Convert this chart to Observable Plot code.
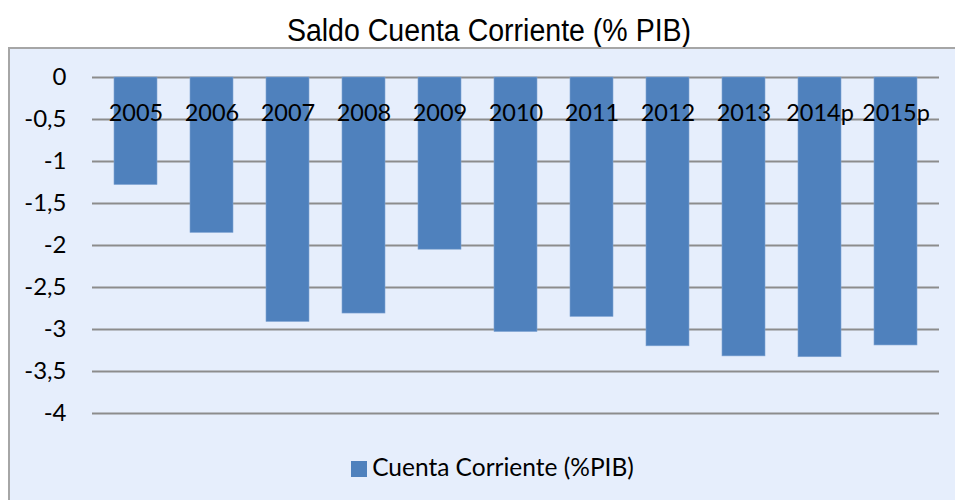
<!DOCTYPE html>
<html>
<head>
<meta charset="utf-8">
<script src="https://cdn.jsdelivr.net/npm/d3@7"></script>
<script src="https://cdn.jsdelivr.net/npm/@observablehq/plot@0.6"></script>
<style>
  html, body { margin: 0; padding: 0; background: #ffffff; overflow: hidden; }
  #title {
    position: absolute; left: 189px; top: 11px; width: 600px; height: 40px;
    text-align: center; line-height: 40px; white-space: nowrap;
    font-family: "Liberation Sans", Arial, sans-serif;
    font-size: 31px; color: #000;
    transform: scaleX(0.92); transform-origin: center;
  }
  #panel {
    position: absolute; left: 8px; top: 47px; width: 960px; height: 470px;
    background: #E6EEFC; border-left: 2px solid #a6a6a6; border-top: 2px solid #a6a6a6;
  }
  #legend {
    width: 925px; padding-left: 20px; margin-top: 24px; text-align: center;
    font-family: Lato, "Open Sans", sans-serif; font-size: 24.5px; line-height: 28px; color: #000;
  }
  #legend .sw { display: inline-block; width: 16px; height: 16px; background: #4F81BD; vertical-align: -1px; margin-right: 5px; }
</style>
</head>
<body>
<div id="title">Saldo Cuenta Corriente (% PIB)</div>
<div id="panel">
  <div id="chart"></div>
  <div id="legend"><span class="sw"></span>Cuenta Corriente (%PIB)</div>
</div>
<script>
const years = ["2005", "2006", "2007", "2008", "2009", "2010", "2011", "2012", "2013", "2014p", "2015p"];
const saldo = [-1.28, -1.85, -2.91, -2.81, -2.05, -3.03, -2.85, -3.20, -3.32, -3.33, -3.19];
const yTicks = [0, -0.5, -1, -1.5, -2, -2.5, -3, -3.5, -4];

const data = years.map((year, i) => ({year, value: saldo[i]}));

const chart = Plot.plot({
  width: 945,
  height: 380,
  marginLeft: 82,
  marginRight: 16,
  marginTop: 28,
  marginBottom: 16,
  style: {background: "transparent", fontFamily: "Lato, 'Open Sans', sans-serif", fontSize: "23px", color: "#000", overflow: "visible"},
  x: {type: "band", domain: years, paddingInner: 0.43, paddingOuter: 0.22, label: null},
  y: {domain: [-4, 0], label: null},
  marks: [
    Plot.gridY(yTicks, {stroke: "#8c8c8c", strokeOpacity: 1, strokeWidth: 2}),
    Plot.barY(data, {x: "year", y: "value", fill: "#4F81BD", stroke: "#7fa3d2", strokeWidth: 0.6}),
    Plot.axisY(yTicks, {tickSize: 0, tickPadding: 26, tickFormat: d => String(d).replace(".", ","), fill: "#000", fontSize: 24, label: null}),
    Plot.axisX({anchor: "top", tickSize: 0, tickPadding: -35.5, lineAnchor: "middle", fill: "#000", fontSize: 23.5, label: null})
  ]
});
document.getElementById("chart").appendChild(chart);
</script>
</body>
</html>
